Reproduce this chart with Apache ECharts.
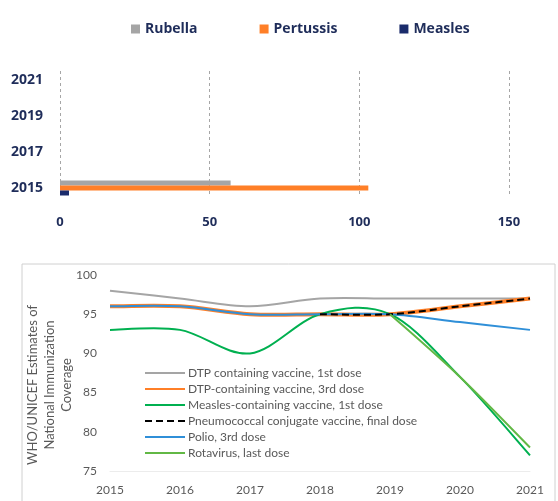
<!DOCTYPE html>
<html>
<head>
<meta charset="utf-8">
<script src="https://cdn.jsdelivr.net/npm/echarts@6/dist/echarts.min.js"></script>
<style>html,body{margin:0;padding:0;background:#fff;}#c{width:558px;height:501px;}</style>
</head>
<body>
<div id="c"></div>
<script>
// ---- Top chart data ----
const barYears = ['2015', '2016', '2017', '2018', '2019', '2020', '2021'];
const rubella = [57, null, null, null, null, null, null];
const pertussis = [103, null, null, null, null, null, null];
const measles = [3, null, null, null, null, null, null];
const barTicks = [0, 50, 100, 150];

// ---- Bottom chart data ----
const years = ['2015', '2016', '2017', '2018', '2019', '2020', '2021'];
const dtp1 = [98, 97, 96, 97, 97, 97, 97];
const dtp3 = [96, 96, 95, 95, 95, 96, 97];
const mcv1 = [93, 93, 90, 95, 95, 87, 77];
const pcv = [null, null, null, 95, 95, 96, 97];
const polio = [96, 96, 95, 95, 95, 94, 93];
const rota = [null, null, null, null, 95, 87, 78];
const lineTicks = [75, 80, 85, 90, 95, 100];

const navy = '#1f2d5a';
const gray = '#595959';
const font = 'Lato';

const lineDefs = [
  { name: 'DTP containing vaccine, 1st dose', data: dtp1, color: '#a5a5a5', width: 2 },
  { name: 'DTP-containing vaccine, 3rd dose', data: dtp3, color: '#ff7f27', width: 4 },
  { name: 'Measles-containing vaccine, 1st dose', data: mcv1, color: '#00b050', width: 2 },
  { name: 'Pneumococcal conjugate vaccine, final dose', data: pcv, color: '#000000', width: 2, dash: [7, 4] },
  { name: 'Polio, 3rd dose', data: polio, color: '#2f8fd8', width: 2 },
  { name: 'Rotavirus, last dose', data: rota, color: '#62b845', width: 2 }
];
// drawing order (later = on top)
const drawOrder = [0, 1, 2, 4, 3, 5];

// Legend carriers (invisible line series, one per name)
const legendCarriers = lineDefs.map(d => ({
  name: d.name, type: 'line', xAxisIndex: 1, yAxisIndex: 1, data: d.data,
  symbol: 'none', silent: true,
  lineStyle: { color: d.color, width: d.width, type: d.dash || 'solid', opacity: 0 },
  itemStyle: { color: d.color }
}));

// Smooth curves (Catmull-Rom style, like spreadsheet smoothing) through library coordinates
const curves = drawOrder.map(k => {
  const d = lineDefs[k];
  const lastIdx = d.data.length - 1;
  return {
    name: d.name, type: 'custom', xAxisIndex: 1, yAxisIndex: 1, silent: true,
    data: d.data.map((v, i) => [i, v == null ? '-' : v]),
    encode: { x: 0, y: 1 },
    renderItem: function (params, api) {
      if (params.dataIndex !== lastIdx) return null;
      const pts = [];
      d.data.forEach((v, i) => { if (v != null) pts.push(api.coord([i, v])); });
      let path = 'M' + pts[0][0] + ',' + pts[0][1];
      for (let i = 0; i < pts.length - 1; i++) {
        const p0 = pts[Math.max(i - 1, 0)], p1 = pts[i], p2 = pts[i + 1], p3 = pts[Math.min(i + 2, pts.length - 1)];
        const c1x = p1[0] + (p2[0] - p0[0]) / 6, c1y = p1[1] + (p2[1] - p0[1]) / 6;
        const c2x = p2[0] - (p3[0] - p1[0]) / 6, c2y = p2[1] - (p3[1] - p1[1]) / 6;
        path += ' C' + c1x + ',' + c1y + ' ' + c2x + ',' + c2y + ' ' + p2[0] + ',' + p2[1];
      }
      return {
        type: 'path', shape: { pathData: path },
        style: { fill: 'none', stroke: d.color, lineWidth: d.width, lineDash: d.dash || null, lineCap: 'butt', lineJoin: 'round' }
      };
    }
  };
});

const chart = echarts.init(document.getElementById('c'));
chart.setOption({
  animation: false,
  textStyle: { fontFamily: font },
  graphic: [
    { type: 'rect', shape: { x: 22, y: 264, width: 533, height: 300 },
      style: { fill: 'none', stroke: '#d0d0d0', lineWidth: 1 }, silent: true },
    { type: 'text', x: 50, y: 385, rotation: Math.PI / 2,
      style: { text: 'WHO/UNICEF Estimates of\nNational Immunization\nCoverage',
        font: '13px Lato', fill: gray, textAlign: 'center', textVerticalAlign: 'middle', lineHeight: 17 } }
  ],
  legend: [
    { left: 126, top: 17, icon: 'rect', itemWidth: 9, itemHeight: 9, itemGap: 62,
      data: ['Rubella', 'Pertussis', 'Measles'],
      textStyle: { color: navy, fontWeight: 'bold', fontSize: 14, fontFamily: 'Open Sans' } },
    { left: 139, top: 362, orient: 'vertical', itemWidth: 40, itemHeight: 14, itemGap: 4,
      itemStyle: { opacity: 0 }, lineStyle: { opacity: 1 },
      data: lineDefs.map(d => d.name),
      textStyle: { color: gray, fontSize: 12, fontFamily: font, padding: [0, 0, 0, -2] } }
  ],
  grid: [
    { left: 60, width: 449, top: 71, height: 126 },
    { left: 110, width: 420, top: 275, height: 196 }
  ],
  xAxis: [
    { type: 'value', gridIndex: 0, min: barTicks[0], max: barTicks[barTicks.length - 1], interval: 50,
      axisLine: { show: false }, axisTick: { show: false },
      axisLabel: { color: navy, fontSize: 13, fontWeight: 'bold', fontFamily: 'Open Sans', margin: 19 },
      splitLine: { show: true, lineStyle: { type: [3, 3], color: '#a6a6a6' } } },
    { type: 'category', gridIndex: 1, data: years, boundaryGap: false,
      axisLine: { show: true, lineStyle: { color: '#ececec' } }, axisTick: { show: false },
      axisLabel: { color: gray, fontSize: 12, margin: 13 } }
  ],
  yAxis: [
    { type: 'category', gridIndex: 0, data: barYears,
      axisLine: { show: false }, axisTick: { show: false },
      axisLabel: { interval: 1, color: navy, fontSize: 14, fontWeight: 'bold', fontFamily: 'Open Sans', margin: 17 } },
    { type: 'value', gridIndex: 1, min: lineTicks[0], max: lineTicks[lineTicks.length - 1], interval: 5,
      axisLine: { show: false }, axisTick: { show: false }, splitLine: { show: false },
      axisLabel: { color: gray, fontSize: 12, margin: 13 } }
  ],
  series: [
    { name: 'Rubella', type: 'bar', xAxisIndex: 0, yAxisIndex: 0, data: rubella, barWidth: 5, barGap: '0%',
      itemStyle: { color: '#a5a5a5' } },
    { name: 'Pertussis', type: 'bar', xAxisIndex: 0, yAxisIndex: 0, data: pertussis, barWidth: 5, barGap: '0%',
      itemStyle: { color: '#ff7f27' } },
    { name: 'Measles', type: 'bar', xAxisIndex: 0, yAxisIndex: 0, data: measles, barWidth: 5, barGap: '0%',
      itemStyle: { color: '#1a2b6b' } }
  ].concat(legendCarriers, curves)
});
</script>
</body>
</html>
